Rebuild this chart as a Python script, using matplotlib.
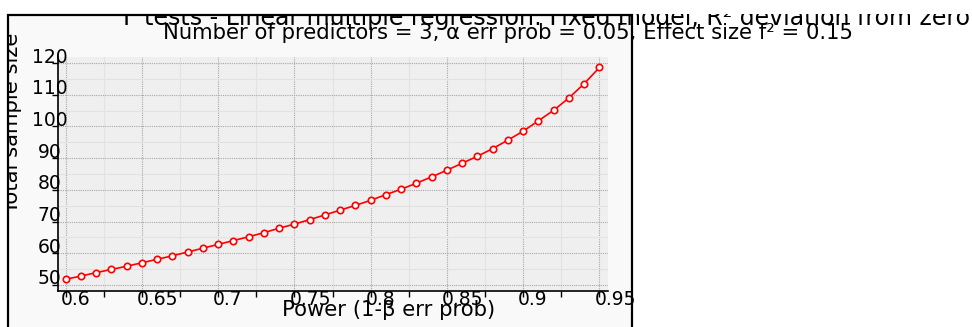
import matplotlib
matplotlib.use("Agg")
import matplotlib.pyplot as plt
import matplotlib.transforms as mtransforms
from matplotlib.patches import Rectangle
from matplotlib.ticker import MultipleLocator

# ── DATA ───────────────────────────────────────────────────────
# total sample size needed per power level (f² = 0.15, 3 predictors)
power = [0.60, 0.61, 0.62, 0.63, 0.64, 0.65, 0.66, 0.67, 0.68, 0.69,
         0.70, 0.71, 0.72, 0.73, 0.74, 0.75, 0.76, 0.77, 0.78, 0.79,
         0.80, 0.81, 0.82, 0.83, 0.84, 0.85, 0.86, 0.87, 0.88, 0.89,
         0.90, 0.91, 0.92, 0.93, 0.94, 0.95]
sample_size = [51.8, 52.8, 53.9, 54.9, 55.9, 57.0, 58.1, 59.2, 60.4, 61.6,
               62.8, 64.0, 65.2, 66.5, 67.9, 69.2, 70.6, 72.1, 73.6, 75.1,
               76.7, 78.5, 80.2, 82.1, 84.1, 86.2, 88.4, 90.6, 93.0, 95.7,
               98.5, 101.8, 105.1, 109.0, 113.5, 118.6]

x_ticks = [0.6, 0.65, 0.7, 0.75, 0.8, 0.85, 0.9, 0.95]
x_tick_labels = ["0.6", "0.65", "0.7", "0.75", "0.8", "0.85", "0.9", "0.95"]
y_ticks = [50, 60, 70, 80, 90, 100, 110, 120]

title = "F tests - Linear multiple regression: Fixed model, R² deviation from zero"
subtitle = "Number of predictors = 3, α err prob = 0.05, Effect size f² = 0.15"

# ── FIGURE ─────────────────────────────────────────────────────
W, H, DPI = 972, 327, 100
fig = plt.figure(figsize=(W / DPI, H / DPI), dpi=DPI)
fig.patch.set_facecolor("white")

def fx(px):
    return px / W

def fy(py):
    return 1 - py / H

# framed panel behind the plot
panel = Rectangle((fx(8), -0.2), fx(632) - fx(8), fy(15) + 0.2,
                  transform=fig.transFigure, facecolor="#f9f9f9",
                  edgecolor="none", zorder=-5)
fig.patches.append(panel)

ax = fig.add_axes([fx(58), fy(291), fx(608) - fx(58), fy(57) - fy(291)])
ax.set_facecolor("#efefef")
ax.set_xlim(0.595, 0.9556)
ax.set_ylim(48.1, 121.9)

ax.plot(power, sample_size, color="red", linewidth=1.2,
        marker="o", markersize=4.6, markerfacecolor="white",
        markeredgecolor="red", markeredgewidth=1.2, zorder=3)

# grid: dotted major lines, faint solid minor lines
ax.set_xticks(x_ticks)
ax.set_yticks(y_ticks)
ax.xaxis.set_minor_locator(MultipleLocator(0.025))
ax.yaxis.set_minor_locator(MultipleLocator(5))
ax.grid(which="major", color="#a8a8a8", linestyle=(0, (1, 1)), linewidth=0.8)
ax.grid(which="minor", color="#e2e2e2", linestyle="-", linewidth=0.8)
ax.set_axisbelow(True)

for side in ("top", "right"):
    ax.spines[side].set_visible(False)
for side in ("left", "bottom"):
    ax.spines[side].set_linewidth(1.2)

ax.tick_params(axis="x", which="both", direction="out", length=4,
               width=1, labelbottom=False)
ax.tick_params(axis="y", which="major", direction="out", length=4.5,
               width=1, labelleft=False)
ax.tick_params(axis="y", which="minor", length=0)

# tick labels sit offset from their ticks
tick_font = dict(family="DejaVu Sans", fontsize=13.5, color="black")
x_tr = mtransforms.blended_transform_factory(ax.transData, ax.transAxes)
x_off = mtransforms.ScaledTranslation(-5 / DPI, -14 / DPI, fig.dpi_scale_trans)
for val, lab in zip(x_ticks, x_tick_labels):
    ax.text(val, 0, lab, transform=x_tr + x_off, ha="left",
            va="baseline", clip_on=False, **tick_font)

y_tr = mtransforms.blended_transform_factory(ax.transAxes, ax.transData)
y_off = mtransforms.ScaledTranslation(-8.5 / DPI, 0.5 / DPI, fig.dpi_scale_trans)
for val in y_ticks:
    ax.text(0, val, str(val), transform=y_tr + y_off, ha="center",
            va="baseline", clip_on=False, **tick_font)

# axis titles
fig.text(fx(389), fy(316), "Power (1-β err prob)", ha="center",
         va="baseline", fontsize=15.2, family="DejaVu Sans")
fig.text(fx(18), fy(123), "Total sample size", ha="center",
         va="baseline", rotation=90, rotation_mode="anchor",
         fontsize=15.2, family="DejaVu Sans")

# headings
fig.text(fx(546), fy(25), title, ha="center", va="baseline",
         fontsize=17.0, family="DejaVu Sans")
fig.text(fx(508), fy(39), subtitle, ha="center", va="baseline",
         fontsize=15.2, family="DejaVu Sans")

# white strips trim the top edge and left margin, then the panel frame
fig.patches.append(Rectangle((0, fy(14)), 1, 1 - fy(14) + 0.01,
                             transform=fig.transFigure, facecolor="white",
                             edgecolor="none", zorder=10))
fig.patches.append(Rectangle((0, 0), fx(7.5), 1,
                             transform=fig.transFigure, facecolor="white",
                             edgecolor="none", zorder=10))
fig.patches.append(Rectangle((fx(8), -0.2), fx(632) - fx(8), fy(15) + 0.2,
                             transform=fig.transFigure, facecolor="none",
                             edgecolor="black", linewidth=1.6, zorder=11))

fig.savefig("out.png", dpi=DPI)
